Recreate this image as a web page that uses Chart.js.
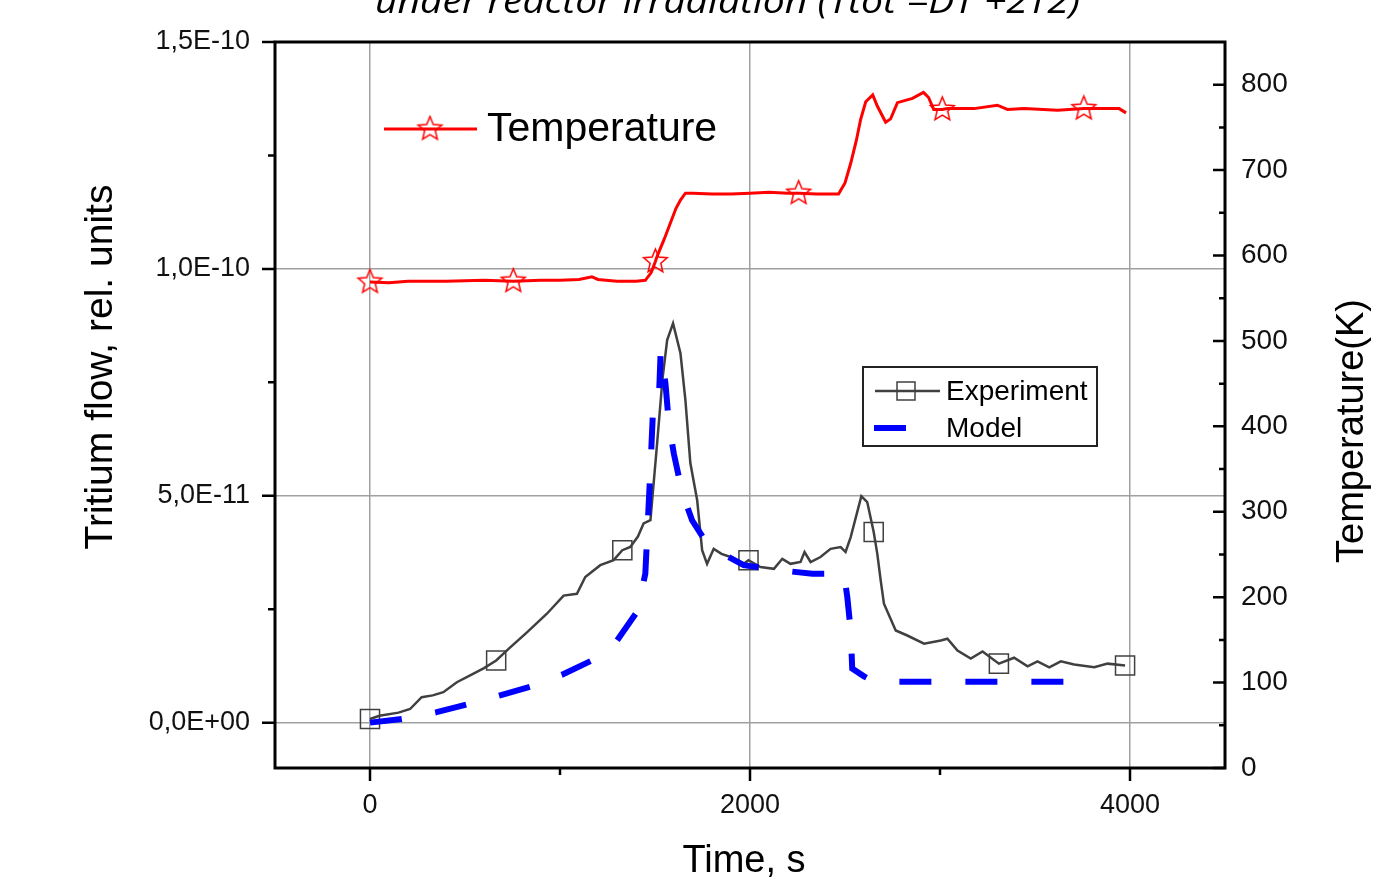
<!DOCTYPE html>
<html>
<head>
<meta charset="utf-8">
<script src="https://cdn.jsdelivr.net/npm/chart.js@4.4.1/dist/chart.umd.min.js"></script>
<style>
  html, body { margin: 0; padding: 0; background: #fff; }
</style>
</head>
<body>
<canvas id="chart" width="1387" height="882"></canvas>
<script>
// time axis, s
const xTicks = [0, 1000, 2000, 3000, 4000];
const xLabels = [0, 2000, 4000];
// left axis (tritium flow)
const flowTicks = [0, 2.5e-11, 5e-11, 7.5e-11, 1e-10, 1.25e-10, 1.5e-10];
const flowLabels = [0, 5e-11, 1e-10, 1.5e-10];
// right axis (temperature)
const tempTicks = [0, 50, 100, 150, 200, 250, 300, 350, 400, 450, 500, 550, 600, 650, 700, 750, 800];
const tempLabels = [0, 100, 200, 300, 400, 500, 600, 700, 800];

// Temperature, K
const tempTime = [0, 100, 200, 400, 600, 754, 900, 1000, 1100, 1168, 1200, 1300, 1400, 1449, 1480, 1502, 1511, 1550, 1581, 1610, 1634, 1660, 1700, 1800, 1900, 2000, 2100, 2200, 2256, 2350, 2440, 2466, 2500, 2530, 2560, 2582, 2609, 2646, 2670, 2714, 2740, 2776, 2855, 2913, 2940, 2967, 3012, 3039, 3179, 3302, 3355, 3443, 3619, 3757, 3882, 3943, 3979];
const tempK = [569, 568, 570, 570, 571, 570, 571, 571, 572, 575, 572, 570, 570, 571, 580, 593, 599, 620, 638, 655, 665, 673, 673, 672, 672, 673, 674, 673, 673, 672, 672, 672, 685, 708, 735, 759, 780, 788, 775, 756, 760, 779, 784, 791, 785, 771, 771, 772, 772, 776, 771, 772, 770, 772, 772, 772, 767];
const tempMarkerTime = [0, 754, 1502, 2256, 3012, 3757];

// Experiment, units of 1E-11
const expTime = [0, 50, 150, 211, 272, 330, 386, 457, 527, 600, 664, 738, 826, 931, 1019, 1089, 1133, 1212, 1282, 1328, 1370, 1410, 1440, 1476, 1511, 1540, 1564, 1595, 1634, 1660, 1686, 1722, 1748, 1774, 1809, 1850, 1897, 1967, 1992, 2055, 2126, 2170, 2213, 2266, 2287, 2319, 2371, 2424, 2477, 2503, 2530, 2586, 2617, 2651, 2670, 2688, 2705, 2767, 2828, 2916, 3004, 3039, 3092, 3162, 3224, 3310, 3390, 3461, 3513, 3575, 3636, 3706, 3812, 3882, 3974];
const expFlow = [0.08, 0.15, 0.22, 0.30, 0.56, 0.60, 0.67, 0.89, 1.04, 1.20, 1.37, 1.66, 1.99, 2.40, 2.80, 2.84, 3.21, 3.47, 3.58, 3.80, 3.87, 4.10, 4.39, 4.46, 6.15, 7.60, 8.43, 8.80, 8.14, 7.11, 5.72, 4.90, 3.80, 3.50, 3.83, 3.72, 3.65, 3.50, 3.58, 3.43, 3.39, 3.61, 3.50, 3.54, 3.76, 3.54, 3.65, 3.83, 3.87, 3.76, 4.09, 4.99, 4.86, 4.20, 3.72, 3.13, 2.62, 2.03, 1.92, 1.74, 1.81, 1.85, 1.59, 1.41, 1.57, 1.30, 1.43, 1.24, 1.35, 1.22, 1.35, 1.28, 1.22, 1.30, 1.26];
const expMarkerTime = [0, 664, 1328, 1992, 2651, 3310, 3974];

// Model, units of 1E-11
const modelTime = [0, 167, 351, 518, 685, 843, 1019, 1168, 1300, 1405, 1449, 1462, 1476, 1488, 1512, 1522, 1530, 1555, 1573, 1599, 1643, 1695, 1750, 1809, 1967, 2152, 2328, 2495, 2512, 2530, 2538, 2600, 2661, 2714, 3742];
const modelFlow = [0.0, 0.08, 0.23, 0.41, 0.60, 0.79, 1.07, 1.37, 1.81, 2.44, 3.28, 4.4, 5.6, 6.74, 6.74, 7.3, 8.2, 7.48, 6.59, 5.93, 5.08, 4.46, 4.1, 3.83, 3.47, 3.36, 3.28, 3.28, 2.77, 2.03, 1.19, 1.02, 0.89, 0.90, 0.90];

const FONT = "'Liberation Sans', Arial, sans-serif";
const GRID = '#a0a0a0';

function makeStar(r, color) {
  const s = Math.ceil(r * 2 + 4);
  const c = document.createElement('canvas');
  c.width = s; c.height = s;
  const g = c.getContext('2d');
  g.strokeStyle = color;
  g.lineWidth = 1.5;
  g.beginPath();
  for (let i = 0; i < 10; i++) {
    const a = -Math.PI / 2 + i * Math.PI / 5;
    const rr = i % 2 ? r * 0.45 : r;
    g.lineTo(s / 2 + rr * Math.cos(a), s / 2 + rr * Math.sin(a));
  }
  g.closePath();
  g.stroke();
  return c;
}
const star = makeStar(12.5, '#ff0000');

function near(list, v, eps) {
  return list.some(t => Math.abs(t - v) <= eps);
}

function sciLabel(v) {
  const [m, e] = v.toExponential(1).split('e');
  const n = parseInt(e, 10);
  return m.replace('.', ',') + 'E' + (n < 0 ? '-' : '+') + String(Math.abs(n)).padStart(2, '0');
}

const decor = {
  id: 'decor',
  afterDraw(chart) {
    const ctx = chart.ctx;
    const a = chart.chartArea;
    const sx = chart.scales.x, sl = chart.scales.yL, sr = chart.scales.yT;
    ctx.save();

    // tick marks
    ctx.strokeStyle = '#000';
    ctx.lineWidth = 2.5;
    ctx.beginPath();
    xTicks.forEach(v => {
      const px = sx.getPixelForValue(v);
      const len = xLabels.includes(v) ? 13 : 7;
      ctx.moveTo(px, a.bottom); ctx.lineTo(px, a.bottom + len);
    });
    flowTicks.forEach(v => {
      const py = sl.getPixelForValue(v);
      const len = near(flowLabels, v, 1e-15) ? 13 : 7;
      ctx.moveTo(a.left, py); ctx.lineTo(a.left - len, py);
    });
    tempTicks.forEach(v => {
      const py = sr.getPixelForValue(v);
      const len = tempLabels.includes(v) ? 12 : 6;
      ctx.moveTo(a.right, py); ctx.lineTo(a.right - len, py);
    });
    ctx.stroke();

    // frame
    ctx.lineWidth = 3;
    ctx.strokeRect(a.left, a.top, a.right - a.left, a.bottom - a.top);

    // title, cut at the top edge
    ctx.fillStyle = '#000';
    ctx.font = "italic 35px 'Open Sans', sans-serif";
    ctx.textBaseline = 'alphabetic';
    const title = 'under reactor irradiation (Ttot =DT +2T2)';
    const tw = ctx.measureText(title).width;
    ctx.save();
    ctx.translate(375, 13);
    ctx.scale(705 / tw, 1);
    ctx.textAlign = 'left';
    ctx.fillText(title, 0, 0);
    ctx.restore();

    // axis titles
    ctx.textAlign = 'center';
    ctx.textBaseline = 'middle';
    ctx.font = '38px ' + FONT;
    ctx.fillText('Time, s', 744, 862);
    ctx.save();
    ctx.translate(101, 367);
    ctx.rotate(-Math.PI / 2);
    ctx.font = '39px ' + FONT;
    ctx.fillText('Tritium flow, rel. units', 0, 0);
    ctx.restore();
    ctx.save();
    ctx.translate(1353, 431);
    ctx.rotate(-Math.PI / 2);
    ctx.font = '38px ' + FONT;
    ctx.fillText('Temperature(K)', 0, 0);
    ctx.restore();

    // legend: temperature
    ctx.strokeStyle = '#ff0000';
    ctx.lineWidth = 3;
    ctx.beginPath();
    ctx.moveTo(384, 129); ctx.lineTo(477, 129);
    ctx.stroke();
    ctx.drawImage(star, 430 - star.width / 2, 129 - star.height / 2);
    ctx.textAlign = 'left';
    ctx.font = '41px ' + FONT;
    ctx.fillStyle = '#000';
    ctx.fillText('Temperature', 487, 130);

    // legend: experiment / model
    ctx.strokeStyle = '#222';
    ctx.lineWidth = 2;
    ctx.strokeRect(863, 367, 234, 79);
    ctx.strokeStyle = '#404040';
    ctx.lineWidth = 2.5;
    ctx.beginPath();
    ctx.moveTo(875, 391); ctx.lineTo(940, 391);
    ctx.stroke();
    ctx.lineWidth = 1.5;
    ctx.strokeRect(897, 382, 18, 18);
    ctx.strokeStyle = '#0000ff';
    ctx.lineWidth = 6;
    ctx.beginPath();
    ctx.moveTo(874, 428); ctx.lineTo(906, 428);
    ctx.stroke();
    ctx.font = '28px ' + FONT;
    ctx.fillText('Experiment', 946, 392);
    ctx.fillText('Model', 946, 429);

    ctx.restore();
  }
};

const toPoints = (xs, ys, k) => xs.map((x, i) => ({ x: x, y: ys[i] * k }));

new Chart(document.getElementById('chart'), {
  type: 'line',
  data: {
    datasets: [
      {
        label: 'Temperature',
        data: toPoints(tempTime, tempK, 1),
        yAxisID: 'yT',
        borderColor: '#ff0000',
        borderWidth: 3,
        pointStyle: star,
        pointRadius: c => tempMarkerTime.includes(c.raw && c.raw.x) ? 10 : 0,
        tension: 0,
        order: 2
      },
      {
        label: 'Experiment',
        data: toPoints(expTime, expFlow, 1e-11),
        yAxisID: 'yL',
        borderColor: '#404040',
        borderWidth: 2.5,
        pointStyle: 'rect',
        pointRadius: c => expMarkerTime.includes(c.raw && c.raw.x) ? 13.5 : 0,
        pointBorderColor: '#404040',
        pointBorderWidth: 1.5,
        pointBackgroundColor: 'rgba(0,0,0,0)',
        tension: 0,
        order: 1
      },
      {
        label: 'Model',
        data: toPoints(modelTime, modelFlow, 1e-11),
        yAxisID: 'yL',
        borderColor: '#0000ff',
        borderWidth: 6,
        borderDash: [32, 34],
        borderCapStyle: 'butt',
        pointRadius: 0,
        tension: 0,
        order: 0
      }
    ]
  },
  options: {
    responsive: false,
    animation: false,
    devicePixelRatio: 1,
    layout: { padding: { top: 42, left: 0, right: 0, bottom: 0 } },
    plugins: {
      legend: { display: false },
      tooltip: { enabled: false }
    },
    scales: {
      x: {
        type: 'linear',
        min: -500,
        max: 4500,
        afterBuildTicks: s => { s.ticks = xTicks.map(v => ({ value: v })); },
        afterFit: s => { s.height = 114; },
        border: { display: false },
        grid: {
          drawTicks: false,
          lineWidth: 1.5,
          color: c => (c.tick && xLabels.includes(c.tick.value)) ? GRID : 'rgba(0,0,0,0)'
        },
        ticks: {
          autoSkip: false,
          maxRotation: 0,
          padding: 21,
          color: '#111',
          font: { family: FONT, size: 27 },
          callback: v => xLabels.includes(v) ? String(v) : ''
        }
      },
      yL: {
        type: 'linear',
        position: 'left',
        min: -1e-11,
        max: 1.5e-10,
        afterBuildTicks: s => { s.ticks = flowTicks.map(v => ({ value: v })); },
        afterFit: s => { s.width = 275; },
        border: { display: false },
        grid: {
          drawTicks: false,
          lineWidth: 1.5,
          color: c => (c.tick && near(flowLabels, c.tick.value, 1e-15)) ? GRID : 'rgba(0,0,0,0)'
        },
        ticks: {
          autoSkip: false,
          padding: 25,
          color: '#111',
          font: { family: FONT, size: 27 },
          callback: v => near(flowLabels, v, 1e-15) ? sciLabel(v) : ''
        }
      },
      yT: {
        type: 'linear',
        position: 'right',
        min: 0,
        max: 850,
        afterBuildTicks: s => { s.ticks = tempTicks.map(v => ({ value: v })); },
        afterFit: s => { s.width = 162; },
        border: { display: false },
        grid: { display: false, drawOnChartArea: false, drawTicks: false },
        ticks: {
          autoSkip: false,
          padding: 16,
          color: '#111',
          font: { family: FONT, size: 28 },
          callback: v => tempLabels.includes(v) ? String(v) : ''
        }
      }
    }
  },
  plugins: [decor]
});
</script>
</body>
</html>
